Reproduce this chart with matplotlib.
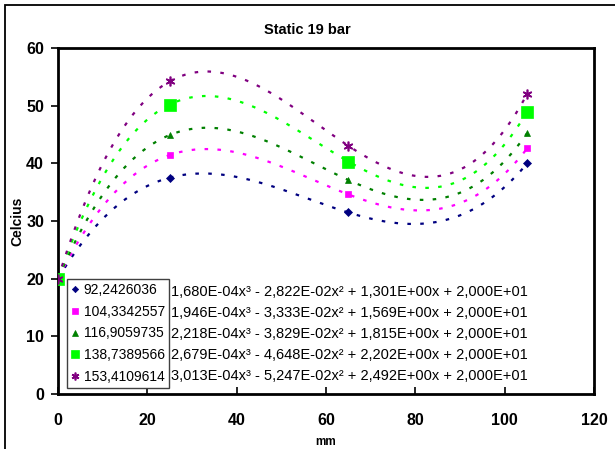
import numpy as np
import matplotlib.pyplot as plt
from matplotlib.patches import Rectangle

plt.rcParams['font.family'] = ['Liberation Sans', 'DejaVu Sans']

# --- data ---
x_mm = [0, 25, 65, 105]
series_names = ["92,2426036", "104,3342557", "116,9059735", "138,7389566", "153,4109614"]
temp_s1 = [20.0, 37.5, 31.5, 40.0]
temp_s2 = [20.0, 41.4, 34.6, 42.6]
temp_s3 = [20.0, 44.9, 37.1, 45.2]
temp_s4 = [20.0, 50.2, 40.3, 48.9]
temp_s5 = [20.0, 54.2, 43.0, 52.0]
temps = [temp_s1, temp_s2, temp_s3, temp_s4, temp_s5]

# trendline coefficients (x^3, x^2, x, 1)
coef_a = [1.680e-04, 1.946e-04, 2.218e-04, 2.679e-04, 3.013e-04]
coef_b = [-2.822e-02, -3.333e-02, -3.829e-02, -4.648e-02, -5.247e-02]
coef_c = [1.301, 1.569, 1.815, 2.202, 2.492]
coef_d = [20.0, 20.0, 20.0, 20.0, 20.0]

colors = ["#000080", "#FF00FF", "#008000", "#00FF00", "#800080"]
markers = ["D", "s", "^", "s", (6, 2, 0)]
msizes = [4, 5, 5, 8, 7]


def sci(v):
    s = "%.3E" % abs(v)
    mant, exp = s.split("E")
    e = int(exp)
    return "%sE%s%02d" % (mant.replace(".", ","), "-" if e < 0 else "+", abs(e)), v < 0


def equation(a, b, c, d):
    parts = []
    for val, pw in [(a, "x\u00b3"), (b, "x\u00b2"), (c, "x"), (d, "")]:
        txt, neg = sci(val)
        if not parts:
            parts.append(("- " if neg else "") + txt + pw)
        else:
            parts.append(("- " if neg else "+ ") + txt + pw)
    return " ".join(parts)


fig = plt.figure(figsize=(6.15, 4.49), dpi=100)
ax = fig.add_axes([58 / 615, 1 - 394 / 449, 536 / 615, 346 / 449])

# outer chart frame
fig.patches.append(Rectangle((5 / 615, -0.1), 1.2, 1 - 5 / 449 + 0.1,
                             transform=fig.transFigure, fill=False,
                             edgecolor="black", linewidth=1.3))

xs = np.linspace(0, 105, 300)
handles = []
for i in range(5):
    ys = coef_a[i] * xs**3 + coef_b[i] * xs**2 + coef_c[i] * xs + coef_d[i]
    ax.plot(xs, ys, color=colors[i], lw=1.6, linestyle=(0, (1.6, 4.2)),
            dash_capstyle="butt", zorder=2)
    h, = ax.plot(x_mm, temps[i], linestyle="none", marker=markers[i],
                 color=colors[i], markersize=msizes[i],
                 markeredgewidth=1.2 if i == 4 else 0.5, zorder=3)
    handles.append(h)

ax.set_xlim(0, 120)
ax.set_ylim(0, 60)
ax.set_xticks(range(0, 121, 20))
ax.set_yticks(range(0, 61, 10))
ax.tick_params(axis="x", direction="in", length=5, width=1.2, pad=14)
ax.tick_params(axis="y", direction="out", length=5, width=1.2, pad=5)
for lbl in ax.get_xticklabels() + ax.get_yticklabels():
    lbl.set_fontweight("bold")
    lbl.set_fontsize(11.5)
for sp in ax.spines.values():
    sp.set_linewidth(2)

ax.set_xlabel("mm", fontsize=8.5, fontweight="bold")
ax.xaxis.set_label_coords(0.5, -0.12)
ax.set_ylabel("Celcius", fontsize=10, fontweight="bold")
ax.yaxis.set_label_coords(-34 / 536, 0.5)
fig.text(0.5, 1 - 30 / 449, "Static 19 bar", fontsize=10.5, fontweight="bold",
         ha="center", va="center")

# trendline equations next to the legend
for i in range(5):
    ax.text(528 / 615, 1 - (292 + 21 * i) / 449,
            equation(coef_a[i], coef_b[i], coef_c[i], coef_d[i]),
            transform=fig.transFigure, fontsize=10.5, ha="right",
            va="center", zorder=4, clip_on=False)

leg = ax.legend(handles, series_names, loc="upper left",
                bbox_to_anchor=(67 / 615, 1 - 279 / 449),
                bbox_transform=fig.transFigure, fontsize=10,
                frameon=True, fancybox=False, framealpha=1,
                edgecolor="#404040", handlelength=0.6, handletextpad=0.3,
                labelspacing=0.55, borderpad=0.3, borderaxespad=0,
                markerscale=0.8)
leg.get_frame().set_linewidth(1.0)
leg.set_zorder(10)

fig.savefig("out.png", dpi=100)
